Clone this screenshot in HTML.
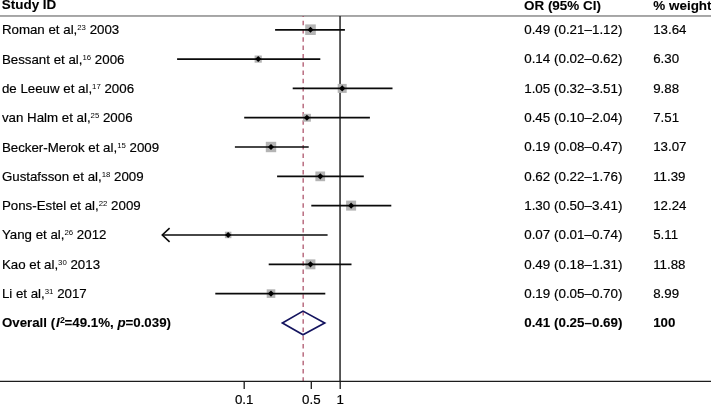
<!DOCTYPE html>
<html><head><meta charset="utf-8"><title>Forest plot</title>
<style>
html,body{margin:0;padding:0;background:#fff;}
body{width:711px;height:404px;overflow:hidden;}
svg{display:block;}
text{font-family:"Liberation Sans",Arial,Helvetica,sans-serif;font-size:13.3px;fill:#000;stroke:#000;stroke-width:0.18px;}
.b{font-weight:bold;stroke-width:0.1px;}
.h{font-size:13.45px;}
.c{font-size:13.4px;}
.sup{font-size:7.8px;stroke-width:0;}
</style></head><body>
<svg width="711" height="404" viewBox="0 0 711 404">
<rect width="711" height="404" fill="#fff"/>

<text class="b h" x="1.8" y="9.2">Study ID</text>
<text class="b h" x="524" y="9.55">OR (95% CI)</text>
<text class="b h" x="653.3" y="9.75">% weight</text>
<rect x="0" y="15.1" width="711" height="1.75" fill="#9c9c9c"/>
<line x1="340.05" y1="16" x2="340.05" y2="381" stroke="#262626" stroke-width="1.5"/>
<line x1="303.15" y1="16" x2="303.15" y2="381" stroke="#a5405a" stroke-width="1.15" stroke-dasharray="4.5 3.79" stroke-dashoffset="3.54"/>
<line x1="0" y1="381.4" x2="711" y2="381.4" stroke="#1c1c1c" stroke-width="1.4"/>
<line x1="244.2" y1="381.4" x2="244.2" y2="388.9" stroke="#1c1c1c" stroke-width="1.3"/>
<line x1="311.3" y1="381.4" x2="311.3" y2="388.9" stroke="#1c1c1c" stroke-width="1.3"/>
<line x1="340.2" y1="381.4" x2="340.2" y2="388.9" stroke="#1c1c1c" stroke-width="1.3"/>
<text x="244.2" y="403.9" text-anchor="middle">0.1</text>
<text x="311.3" y="403.9" text-anchor="middle">0.5</text>
<text x="340.2" y="403.9" text-anchor="middle">1</text>
<text x="1.9" y="34.2">Roman et al,<tspan class="sup" dy="-4.0">23</tspan><tspan dy="4.0"> 2003</tspan></text>
<text class="c" x="524.2" y="33.9">0.49 (0.21–1.12)</text>
<text x="653.2" y="33.9">13.64</text>
<rect x="305.2" y="24.4" width="10.6" height="10.6" fill="#b4b4b4"/>
<line x1="275.1" y1="29.8" x2="344.9" y2="29.8" stroke="#0a0a0a" stroke-width="1.7"/>
<polygon points="307.4,29.8 310.5,26.7 313.5,29.8 310.5,32.8" fill="#000"/>
<text x="1.9" y="63.5">Bessant et al,<tspan class="sup" dy="-4.0">16</tspan><tspan dy="4.0"> 2006</tspan></text>
<text class="c" x="524.2" y="63.2">0.14 (0.02–0.62)</text>
<text x="653.2" y="63.2">6.30</text>
<rect x="254.6" y="55.5" width="7.2" height="7.2" fill="#b4b4b4"/>
<line x1="177.1" y1="59.1" x2="320.3" y2="59.1" stroke="#0a0a0a" stroke-width="1.7"/>
<polygon points="255.2,59.1 258.2,56.0 261.3,59.1 258.2,62.1" fill="#000"/>
<text x="1.9" y="92.8">de Leeuw et al,<tspan class="sup" dy="-4.0">17</tspan><tspan dy="4.0"> 2006</tspan></text>
<text class="c" x="524.2" y="92.5">1.05 (0.32–3.51)</text>
<text x="653.2" y="92.5">9.88</text>
<rect x="337.7" y="83.9" width="9.0" height="9.0" fill="#b4b4b4"/>
<line x1="292.7" y1="88.4" x2="392.5" y2="88.4" stroke="#0a0a0a" stroke-width="1.7"/>
<polygon points="339.2,88.4 342.2,85.3 345.3,88.4 342.2,91.4" fill="#000"/>
<text x="1.9" y="122.2">van Halm et al,<tspan class="sup" dy="-4.0">25</tspan><tspan dy="4.0"> 2006</tspan></text>
<text class="c" x="524.2" y="121.9">0.45 (0.10–2.04)</text>
<text x="653.2" y="121.9">7.51</text>
<rect x="303.0" y="113.8" width="7.9" height="7.9" fill="#b4b4b4"/>
<line x1="244.2" y1="117.7" x2="369.9" y2="117.7" stroke="#0a0a0a" stroke-width="1.7"/>
<polygon points="303.9,117.7 306.9,114.7 310.0,117.7 306.9,120.8" fill="#000"/>
<text x="1.9" y="151.5">Becker-Merok et al,<tspan class="sup" dy="-4.0">15</tspan><tspan dy="4.0"> 2009</tspan></text>
<text class="c" x="524.2" y="151.2">0.19 (0.08–0.47)</text>
<text x="653.2" y="151.2">13.07</text>
<rect x="265.8" y="141.8" width="10.4" height="10.4" fill="#b4b4b4"/>
<line x1="234.9" y1="147.0" x2="308.7" y2="147.0" stroke="#0a0a0a" stroke-width="1.7"/>
<polygon points="267.9,147.0 271.0,144.0 274.0,147.0 271.0,150.1" fill="#000"/>
<text x="1.9" y="180.8">Gustafsson et al,<tspan class="sup" dy="-4.0">18</tspan><tspan dy="4.0"> 2009</tspan></text>
<text class="c" x="524.2" y="180.5">0.62 (0.22–1.76)</text>
<text x="653.2" y="180.5">11.39</text>
<rect x="315.4" y="171.5" width="9.7" height="9.7" fill="#b4b4b4"/>
<line x1="277.1" y1="176.3" x2="363.8" y2="176.3" stroke="#0a0a0a" stroke-width="1.7"/>
<polygon points="317.2,176.3 320.3,173.3 323.3,176.3 320.3,179.4" fill="#000"/>
<text x="1.9" y="210.1">Pons-Estel et al,<tspan class="sup" dy="-4.0">22</tspan><tspan dy="4.0"> 2009</tspan></text>
<text class="c" x="524.2" y="209.8">1.30 (0.50–3.41)</text>
<text x="653.2" y="209.8">12.24</text>
<rect x="346.1" y="200.6" width="10.0" height="10.0" fill="#b4b4b4"/>
<line x1="311.3" y1="205.7" x2="391.3" y2="205.7" stroke="#0a0a0a" stroke-width="1.7"/>
<polygon points="348.1,205.7 351.1,202.6 354.2,205.7 351.1,208.7" fill="#000"/>
<text x="1.9" y="239.4">Yang et al,<tspan class="sup" dy="-4.0">26</tspan><tspan dy="4.0"> 2012</tspan></text>
<text class="c" x="524.2" y="239.1">0.07 (0.01–0.74)</text>
<text x="653.2" y="239.1">5.11</text>
<rect x="224.9" y="231.7" width="6.5" height="6.5" fill="#b4b4b4"/>
<polyline points="169.6,228.2 162.3,235.0 169.6,241.8" fill="none" stroke="#0a0a0a" stroke-width="1.6"/>
<line x1="162.3" y1="235.0" x2="327.6" y2="235.0" stroke="#0a0a0a" stroke-width="1.7"/>
<polygon points="225.1,235.0 228.1,231.9 231.2,235.0 228.1,238.0" fill="#000"/>
<text x="1.9" y="268.8">Kao et al,<tspan class="sup" dy="-4.0">30</tspan><tspan dy="4.0"> 2013</tspan></text>
<text class="c" x="524.2" y="268.5">0.49 (0.18–1.31)</text>
<text x="653.2" y="268.5">11.88</text>
<rect x="305.5" y="259.4" width="9.9" height="9.9" fill="#b4b4b4"/>
<line x1="268.7" y1="264.3" x2="351.5" y2="264.3" stroke="#0a0a0a" stroke-width="1.7"/>
<polygon points="307.4,264.3 310.5,261.3 313.5,264.3 310.5,267.4" fill="#000"/>
<text x="1.9" y="298.1">Li et al,<tspan class="sup" dy="-4.0">31</tspan><tspan dy="4.0"> 2017</tspan></text>
<text class="c" x="524.2" y="297.8">0.19 (0.05–0.70)</text>
<text x="653.2" y="297.8">8.99</text>
<rect x="266.7" y="289.3" width="8.6" height="8.6" fill="#b4b4b4"/>
<line x1="215.3" y1="293.6" x2="325.3" y2="293.6" stroke="#0a0a0a" stroke-width="1.7"/>
<polygon points="267.9,293.6 271.0,290.6 274.0,293.6 271.0,296.7" fill="#000"/>
<text class="b" x="1.9" y="327.4">Overall (<tspan font-style="italic" dx="0.8">I</tspan><tspan class="sup" style="font-size:8.8px" dx="0.4" dy="-4.2">2</tspan><tspan dx="-0.4" dy="4.2">=49.1%, </tspan><tspan font-style="italic">p</tspan>=0.039)</text>
<text class="b c" x="524.2" y="327.4">0.41 (0.25–0.69)</text>
<text class="b" x="653.2" y="327.4">100</text>
<polygon points="282.4,322.9 303.0,311.1 324.7,322.9 303.0,334.8" fill="none" stroke="#14145f" stroke-width="1.7"/>
</svg></body></html>
